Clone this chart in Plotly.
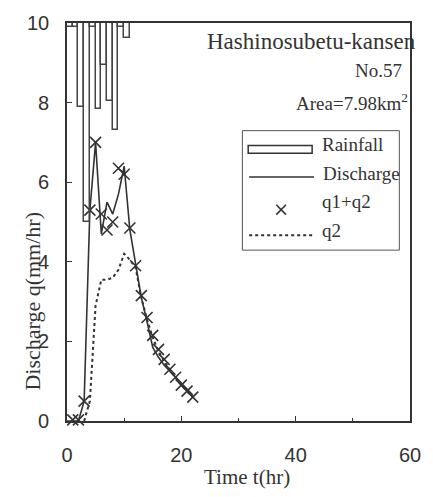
import plotly.graph_objects as go

# ---- data ----
hours = list(range(0, 23))
discharge = [0.0, 0.0, 0.0, 0.5, 5.3, 7.0, 4.7, 5.5, 5.2, 5.7, 6.4, 4.8,
             3.9, 3.1, 2.5, 1.85, 1.6, 1.4, 1.25, 1.1, 0.95, 0.8, 0.65]

q_hours = list(range(1, 23))
q1q2 = [0.03, 0.03, 0.5, 5.3, 7.0, 5.2, 4.8, 5.0, 6.35, 6.2, 4.85,
        3.9, 3.15, 2.6, 2.15, 1.8, 1.55, 1.3, 1.1, 0.9, 0.75, 0.6]

q2_hours = list(range(3, 23))
q2 = [0.0, 0.5, 2.9, 3.55, 3.55, 3.6, 3.8, 4.2, 4.05, 3.85, 3.1, 2.55,
      2.1, 1.75, 1.5, 1.28, 1.08, 0.9, 0.74, 0.6]

rain_hours = list(range(0, 12))
rainfall = [0.1, 0.1, 2.1, 5.0, 0.1, 2.15, 1.05, 1.95, 2.7, 0.1, 0.37, 0.0]

x_ticks = [0, 20, 40, 60]
y_ticks = [0, 2, 4, 6, 8, 10]

INK = "#333333"
SERIF = "Liberation Serif"
SANS = "Liberation Sans"

# plot-area geometry in pixels (for decorative legend / labels)
L, R, T, B = 67, 421, 18, 421
def px(xp):
    return (xp - L) / (R - L)
def py(yp):
    return (B - yp) / (B - T)

fig = go.Figure()

fig.add_trace(go.Bar(
    x=[h + 0.5 for h in rain_hours], y=rainfall, width=1, yaxis="y2",
    marker=dict(color="rgba(0,0,0,0)", line=dict(color="#444444", width=1.5)),
    name="Rainfall"))

fig.add_trace(go.Scatter(
    x=hours, y=discharge, mode="lines", line=dict(color=INK, width=1.6),
    name="Discharge", cliponaxis=False))

fig.add_trace(go.Scatter(
    x=q_hours, y=q1q2, mode="markers", name="q1+q2", cliponaxis=False,
    marker=dict(symbol="x-thin", size=11, color=INK, line=dict(width=1.6, color=INK))))

fig.add_trace(go.Scatter(
    x=q2_hours, y=q2, mode="lines", name="q2",
    line=dict(color=INK, width=2, dash="dot")))

axis_common = dict(showline=True, linecolor=INK, linewidth=1.6, mirror=True,
                   showgrid=False, zeroline=False, ticks="inside", ticklen=5,
                   tickcolor=INK, tickwidth=1,
                   tickfont=dict(family=SANS, size=20, color=INK))

fig.update_layout(
    width=433, height=497,
    margin=dict(l=L, r=433 - R, t=T, b=497 - B),
    plot_bgcolor="white", paper_bgcolor="white",
    showlegend=False, bargap=0,
    xaxis=dict(range=[0, 60], tickvals=x_ticks, ticklabelstandoff=15,
               minor=dict(ticks="inside", dtick=10, ticklen=3, tickcolor=INK),
               **axis_common),
    yaxis=dict(range=[0, 10], tickvals=y_ticks, ticklabelstandoff=12, **axis_common),
    yaxis2=dict(range=[10, 0], overlaying="y", visible=False),
)

def label(text, x, y, size, xanchor="center", angle=0):
    return dict(text=text, x=px(x), y=py(y), xref="paper", yref="paper",
                xanchor=xanchor, yanchor="middle", showarrow=False, textangle=angle,
                font=dict(family=SERIF, size=size, color=INK))

ann = [
    label("Time t(hr)", 253, 478, 21),
    label("Discharge q(mm/hr)", 31, 300, 22, angle=-90),
    label("Hashinosubetu-kansen", 429, 37, 23, xanchor="right"),
    label("No.57", 415, 66, 19, xanchor="right"),
    label("Area=7.98km<sup>2</sup>", 421, 98, 19, xanchor="right"),
    label("Rainfall", 328, 141, 19, xanchor="left"),
    label("Discharge", 329, 170, 19, xanchor="left"),
    label("q1+q2", 328, 199, 19, xanchor="left"),
    label("q2", 328, 228, 19, xanchor="left"),
]
fig.update_layout(annotations=ann)

shapes = []
# legend frame
shapes.append(dict(type="rect", xref="paper", yref="paper", x0=px(248), x1=px(410),
                   y0=py(248), y1=py(127), line=dict(color="#555555", width=1)))
# rainfall symbol
shapes.append(dict(type="rect", xref="paper", yref="paper", x0=px(254), x1=px(320),
                   y0=py(150), y1=py(142), line=dict(color=INK, width=1.5)))
# discharge symbol
shapes.append(dict(type="line", xref="paper", yref="paper", x0=px(255), x1=px(322),
                   y0=py(174), y1=py(174), line=dict(color=INK, width=1.6)))
# x symbol
shapes.append(dict(type="line", xref="paper", yref="paper", x0=px(283), x1=px(293),
                   y0=py(202), y1=py(212), line=dict(color=INK, width=1.6)))
shapes.append(dict(type="line", xref="paper", yref="paper", x0=px(283), x1=px(293),
                   y0=py(212), y1=py(202), line=dict(color=INK, width=1.6)))
# q2 symbol
shapes.append(dict(type="line", xref="paper", yref="paper", x0=px(255), x1=px(322),
                   y0=py(233), y1=py(233), line=dict(color=INK, width=2, dash="dot")))
fig.update_layout(shapes=shapes)

fig.write_html("out.html")
